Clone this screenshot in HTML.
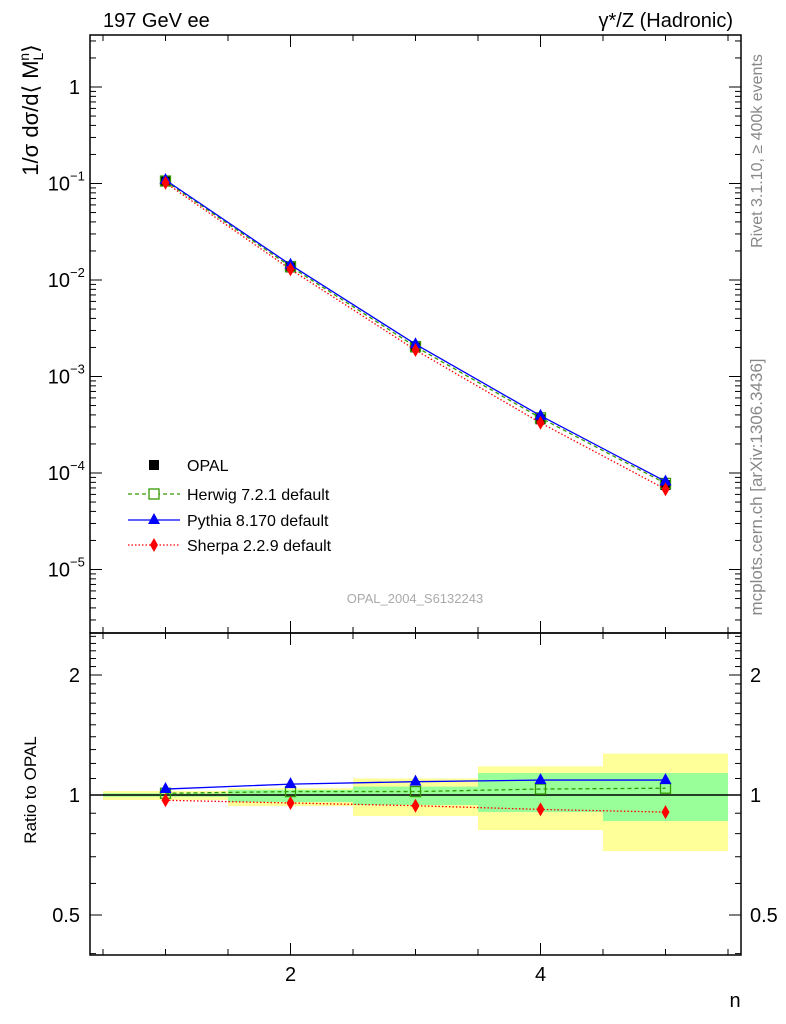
<!DOCTYPE html>
<html><head><meta charset="utf-8"><style>
html,body{margin:0;padding:0;background:#fff}
svg{display:block;font-family:"Liberation Sans",sans-serif}
</style></head><body>
<svg id="c" width="786" height="1024" xmlns="http://www.w3.org/2000/svg">
<rect width="786" height="1024" fill="#fff"/>
<g id="bands"></g><g id="marks"></g><g id="axes"></g>
<text x="103" y="27" font-size="20">197 GeV ee</text>
<text x="733" y="27" font-size="20" text-anchor="end">γ*/Z (Hadronic)</text>
<text transform="translate(38,110) rotate(-90)" font-size="22" text-anchor="middle">1/σ dσ/d⟨ M<tspan font-size="14" dy="5">L</tspan><tspan font-size="14" dy="-14" dx="-8">n</tspan><tspan dy="9">⟩</tspan></text>
<text transform="translate(36,790) rotate(-90)" font-size="17" text-anchor="middle">Ratio to OPAL</text>
<text x="735" y="1007" font-size="20" text-anchor="middle">n</text>
<text transform="translate(762,151) rotate(-90)" font-size="16" fill="#888" text-anchor="middle">Rivet 3.1.10, ≥ 400k events</text>
<text transform="translate(762,487) rotate(-90)" font-size="17" fill="#888" text-anchor="middle">mcplots.cern.ch [arXiv:1306.3436]</text>
<text x="415" y="603" font-size="13" fill="#aaa" text-anchor="middle">OPAL_2004_S6132243</text>
<g id="legend"></g>
</svg>
<script>
const ns="http://www.w3.org/2000/svg";
const nVals=[1,2,3,4,5];
const opal=[0.105,0.0135,0.0020,0.00036,0.000075];
const herwigRatio=[1.01,1.02,1.02,1.035,1.04];
const pythiaRatio=[1.035,1.065,1.08,1.09,1.09];
const sherpaRatio=[0.97,0.955,0.94,0.92,0.906];
const yellowHi=[1.023,1.04,1.10,1.18,1.27];
const yellowLo=[0.972,0.938,0.886,0.817,0.723];
const greenHi=[1.01,1.03,1.05,1.135,1.135];
const greenLo=[0.99,0.96,0.944,0.906,0.86];

const L=90,R=741,T=35,MB=633,RB=955;
const xmin=0.396,xmax=5.604;
const X=v=>L+(v-xmin)/(xmax-xmin)*(R-L);
const Y=v=>87-96.5*Math.log10(v);
const YR=v=>795-120*Math.log2(v);
function el(tag,attrs,parent,name){const e=document.createElementNS(ns,tag);for(const k in attrs)e.setAttribute(k,attrs[k]);


parent.appendChild(e);return e;}
const bands=document.getElementById('bands'),marks=document.getElementById('marks'),axes=document.getElementById('axes'),leg=document.getElementById('legend');
nVals.forEach((n,i)=>{
 el('rect',{x:X(n-0.5),y:YR(yellowHi[i]),width:X(n+0.5)-X(n-0.5),height:YR(yellowLo[i])-YR(yellowHi[i]),fill:'#ffff99'},bands,'band-total-'+n);
 el('rect',{x:X(n-0.5),y:YR(greenHi[i]),width:X(n+0.5)-X(n-0.5),height:YR(greenLo[i])-YR(greenHi[i]),fill:'#99ff99'},bands,'band-stat-'+n);
});
el('line',{x1:L,x2:R,y1:YR(1),y2:YR(1),stroke:'#000','stroke-width':1.5},bands,'ratio-unity-line');
function series(vals,yf,color,dash,marker,name){
 const pts=nVals.map((n,i)=>X(n)+','+yf(vals[i])).join(' ');
 el('polyline',{points:pts,fill:'none',stroke:color,'stroke-width':1.3,'stroke-dasharray':dash},marks,name+'-line');
 nVals.forEach((n,i)=>{const x=X(n),y=yf(vals[i]);
  if(marker==='sq')el('rect',{x:x-5,y:y-5,width:10,height:10,fill:'none',stroke:color,'stroke-width':1.3},marks,name+'-point');
  if(marker==='tri')el('polygon',{points:`${x},${y-7} ${x-6},${y+4} ${x+6},${y+4}`,fill:color},marks,name+'-point');
  if(marker==='dia')el('polygon',{points:`${x},${y-7} ${x-4},${y} ${x},${y+7} ${x+4},${y}`,fill:color},marks,name+'-point');
 });
}
nVals.forEach((n,i)=>el('rect',{x:X(n)-5,y:Y(opal[i])-5,width:10,height:10,fill:'#000'},marks,'opal-point'));
series(opal.map((v,i)=>v*herwigRatio[i]),Y,'#339900','4,3','sq','herwig');
series(opal.map((v,i)=>v*pythiaRatio[i]),Y,'#0000ff','','tri','pythia');
series(opal.map((v,i)=>v*sherpaRatio[i]),Y,'#ff0000','1.5,2','dia','sherpa');
series(herwigRatio,YR,'#339900','4,3','sq','herwig-ratio');
series(pythiaRatio,YR,'#0000ff','','tri','pythia-ratio');
series(sherpaRatio,YR,'#ff0000','1.5,2','dia','sherpa-ratio');
el('rect',{x:L,y:T,width:R-L,height:MB-T,fill:'none',stroke:'#000','stroke-width':1.5},axes,'main-frame');
el('rect',{x:L,y:MB,width:R-L,height:RB-MB,fill:'none',stroke:'#000','stroke-width':1.5},axes,'ratio-frame');
for(let v=0.5;v<=5.51;v+=0.5){const maj=Math.abs(v%2)<1e-6;const len=maj?12:6;const x=X(v);
 [[T,1],[MB,-1],[MB,1],[RB,-1]].forEach(([y0,d])=>el('line',{x1:x,x2:x,y1:y0,y2:y0+d*len,stroke:'#000'},axes,'x-tick'));
 if(maj){const t=el('text',{x:x,y:981,'font-size':20,'text-anchor':'middle'},axes,'x-tick-label');t.textContent=v;}
}
const expLabels=['1','10','10','10','10','10'];const exps=['','−1','−2','−3','−4','−5'];
for(let e=-6;e<=0;e++)for(let m=1;m<10;m++){const v=m*Math.pow(10,e);const y=Y(v);if(y<T||y>MB)continue;const len=m===1?12:6;
 el('line',{x1:L,x2:L+len,y1:y,y2:y,stroke:'#000'},axes,'y-tick');el('line',{x1:R,x2:R-len,y1:y,y2:y,stroke:'#000'},axes,'y-tick');}
for(let k=0;k<6;k++){const y=Y(Math.pow(10,-k));
 const t=el('text',{x:k?70:80,y:y+7,'font-size':20,'text-anchor':'end'},axes,'y-tick-label');t.textContent=expLabels[k];
 if(k){const s=el('text',{x:70,y:y-3,'font-size':13},axes,'y-tick-exp');s.textContent=exps[k];}}
for(let v=0.4;v<=2.55;v+=0.1){const y=YR(v);if(y<MB||y>RB)continue;const maj=[0.5,1,2].some(q=>Math.abs(q-v)<1e-6);const len=maj?12:6;
 el('line',{x1:L,x2:L+len,y1:y,y2:y,stroke:'#000'},axes,'ratio-tick');el('line',{x1:R,x2:R-len,y1:y,y2:y,stroke:'#000'},axes,'ratio-tick');}
[0.5,1,2].forEach(v=>{const y=YR(v)+7;
 const a=el('text',{x:80,y:y,'font-size':20,'text-anchor':'end'},axes,'ratio-tick-label');a.textContent=v;
 const b=el('text',{x:750,y:y,'font-size':20},axes,'ratio-tick-label-right');b.textContent=v;});
const lg=[['OPAL','#000','','fill'],['Herwig 7.2.1 default','#339900','4,3','sq'],['Pythia 8.170 default','#0000ff','','tri'],['Sherpa 2.2.9 default','#ff0000','1.5,2','dia']];
const ly=[465,494,520,545];
lg.forEach((g,i)=>{const y=ly[i],x=154;
 if(i)el('line',{x1:128,x2:180,y1:y,y2:y,stroke:g[1],'stroke-width':1.3,'stroke-dasharray':g[2]},leg,'legend-line');
 if(g[3]==='fill')el('rect',{x:x-5,y:y-5,width:10,height:10,fill:'#000'},leg,'legend-marker');
 if(g[3]==='sq')el('rect',{x:x-5,y:y-5,width:10,height:10,fill:'#fff',stroke:g[1],'stroke-width':1.3},leg,'legend-marker');
 if(g[3]==='tri')el('polygon',{points:`${x},${y-7} ${x-6},${y+4} ${x+6},${y+4}`,fill:g[1]},leg,'legend-marker');
 if(g[3]==='dia')el('polygon',{points:`${x},${y-7} ${x-4},${y} ${x},${y+7} ${x+4},${y}`,fill:g[1]},leg,'legend-marker');
 const t=el('text',{x:187,y:y+6,'font-size':16},leg,'legend-entry');t.textContent=g[0];});
</script>
</body></html>
